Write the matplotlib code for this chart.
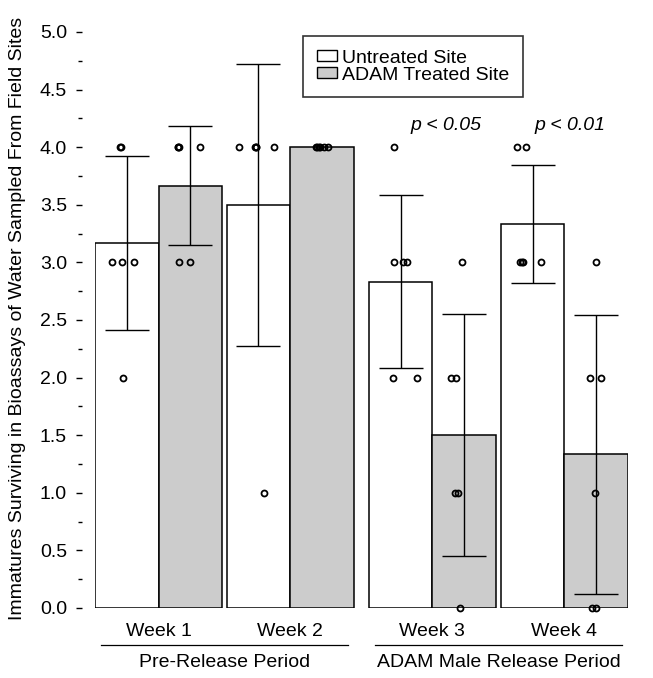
import numpy as np
import matplotlib.pyplot as plt
from matplotlib.patches import Patch
from matplotlib.ticker import MultipleLocator

plt.rcParams['font.family'] = ['Liberation Sans', 'DejaVu Sans']

# raw bioassay counts per week (6 samples per site)
weeks = ['Week 1', 'Week 2', 'Week 3', 'Week 4']
periods = ['Pre-Release Period', 'ADAM Male Release Period']
untreated = [[4, 4, 3, 3, 3, 2],
             [4, 4, 4, 4, 4, 1],
             [4, 3, 3, 3, 2, 2],
             [4, 4, 3, 3, 3, 3]]
treated = [[4, 4, 4, 4, 3, 3],
           [4, 4, 4, 4, 4, 4],
           [3, 2, 2, 1, 1, 0],
           [3, 2, 2, 1, 0, 0]]
# horizontal jitter of the points
untreated_jit = [[-0.10, -0.09, -0.23, -0.07, 0.12, -0.06],
                 [-0.31, -0.05, -0.04, -0.03, 0.24, 0.09],
                 [-0.10, -0.10, 0.04, 0.10, -0.12, 0.26],
                 [-0.25, -0.10, -0.20, -0.17, -0.16, 0.13]]
treated_jit = [[-0.20, -0.19, -0.18, 0.16, -0.18, 0.00],
               [-0.09, -0.07, -0.05, -0.03, 0.04, 0.09],
               [-0.04, -0.20, -0.13, -0.15, -0.09, -0.06],
               [0.00, -0.10, 0.08, -0.02, -0.06, -0.01]]
pvals = ['', '', 'p < 0.05', 'p < 0.01']

group_x = np.array([0.5, 2.57, 4.81, 6.89])
period_x = [1.54, 5.85]

fig = plt.figure(figsize=(6.53, 6.78), dpi=100)
ax = fig.add_axes([95/653, 70/678, 533/653, 576/678])

mean_u = [np.mean(v) for v in untreated]
mean_t = [np.mean(v) for v in treated]
sd_u = [np.std(v, ddof=1) for v in untreated]
sd_t = [np.std(v, ddof=1) for v in treated]

xu = group_x - 0.5
xt = group_x + 0.5

ax.bar(xu, mean_u, width=1.0, color='white', edgecolor='black', linewidth=1.1, zorder=1)
ax.bar(xt, mean_t, width=1.0, color='#cccccc', edgecolor='black', linewidth=1.1, zorder=1)

for x, m, s in zip(list(xu) + list(xt), mean_u + mean_t, sd_u + sd_t):
    if s > 0:
        ax.errorbar(x, m, yerr=s, fmt='none', ecolor='black', elinewidth=1.0,
                    capsize=15.5, capthick=1.0, zorder=2)

for i in range(4):
    ax.plot(xu[i] + np.array(untreated_jit[i]), untreated[i], 'o', mfc='none', mec='black',
            ms=4.3, mew=1.3, clip_on=False, zorder=3)
    ax.plot(xt[i] + np.array(treated_jit[i]), treated[i], 'o', mfc='none', mec='black',
            ms=4.3, mew=1.3, clip_on=False, zorder=3)

ax.text(5.02, 4.19, pvals[2], style='italic', fontsize=14, ha='center', va='center')
ax.text(6.98, 4.19, pvals[3], style='italic', fontsize=14, ha='center', va='center')

ax.set_xlim(-0.5, 7.89)
ax.set_ylim(0, 5)
for s in ['top', 'right', 'bottom']:
    ax.spines[s].set_visible(False)
ax.spines['left'].set_position(('outward', 9.4))
ax.spines['left'].set_visible(False)
ax.set_xticks([])
ax.yaxis.set_major_locator(MultipleLocator(0.5))
ax.yaxis.set_minor_locator(MultipleLocator(0.25))
ax.yaxis.set_major_formatter(plt.FormatStrFormatter('%.1f'))
ax.tick_params(axis='y', which='major', length=4.3, width=1.0, pad=6.5, labelsize=14)
ax.tick_params(axis='y', which='minor', length=2.9, width=1.0)

# x labels: weeks, period lines and period names
for x, w in zip(group_x, weeks):
    ax.text(x, -0.208, w, fontsize=14, ha='center', va='center', clip_on=False)
for x, p in zip(period_x, periods):
    ax.plot([x - 1.95, x + 1.95], [-0.321, -0.321], color='black', lw=0.9, clip_on=False)
    ax.text(x, -0.469, p, fontsize=14, ha='center', va='center', clip_on=False)

fig.text(18/653, 1 - 318/678,
         'Immatures Surviving in Bioassays of Water Sampled From Field Sites',
         rotation=90, fontsize=14, ha='center', va='center')

handles = [Patch(facecolor='white', edgecolor='black', linewidth=1.0, label='Untreated Site'),
           Patch(facecolor='#cccccc', edgecolor='black', linewidth=1.0, label='ADAM Treated Site')]
leg = ax.legend(handles=handles, loc='upper left', bbox_to_anchor=(303/653, 1 - 36/678),
                bbox_transform=fig.transFigure, fontsize=14, frameon=True, fancybox=False,
                borderaxespad=0, borderpad=0.7, handlelength=1.03, handleheight=0.46,
                handletextpad=0.3, labelspacing=0.0)
leg.get_frame().set_edgecolor('black')
leg.get_frame().set_linewidth(1.2)

fig.savefig('out.png', dpi=100)
